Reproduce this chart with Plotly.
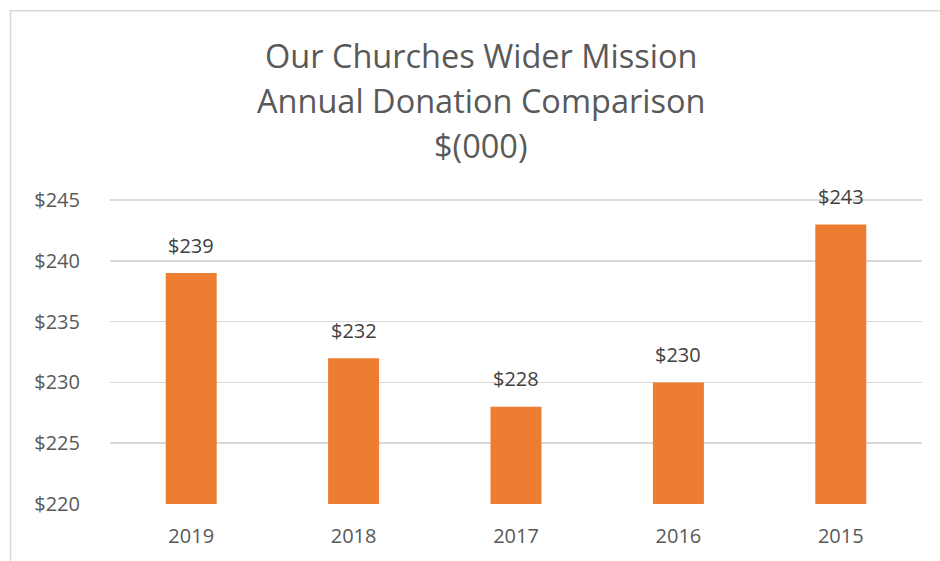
import plotly.graph_objects as go

categories = ["2019", "2018", "2017", "2016", "2015"]
values = [239, 232, 228, 230, 243]
y_ticks = [220, 225, 230, 235, 240, 245]
y_tick_labels = ["$220", "$225", "$230", "$235", "$240", "$245"]
title_lines = ["Our Churches Wider Mission", "Annual Donation Comparison", "$(000)"]

W, H = 940, 561
L, R, T, B = 110, 17.5, 198.8, 57.3
pw = W - L - R
ph = H - T - B

fig = go.Figure()
fig.add_trace(go.Bar(
    x=categories, y=values, width=0.314,
    marker=dict(color="#ED7D31", line=dict(width=0)),
    hoverinfo="skip",
))

for i, v in enumerate(values):
    fig.add_annotation(x=i, y=v, xref="x", yref="y", text=f"${v}", showarrow=False,
                       yshift=28, yanchor="middle",
                       font=dict(family="Open Sans", size=20, color="#404040"))

# title
for i, line in enumerate(title_lines):
    ypx = 55 + i * 45
    fig.add_annotation(xref="paper", yref="paper",
                       x=(481.5 - L) / pw, y=(H - B - ypx) / ph,
                       text=line, showarrow=False, xanchor="center", yanchor="middle",
                       font=dict(family="Open Sans", size=32.5, color="#595959"))

# chart frame
fig.add_shape(type="rect", xref="paper", yref="paper",
              x0=(10.5 - L) / pw, x1=(W + 50 - L) / pw,
              y0=(H - B - (H + 50)) / ph, y1=(H - B - 10.5) / ph,
              line=dict(color="#D9D9D9", width=1.5), fillcolor="rgba(0,0,0,0)", layer="below")

fig.update_layout(
    width=W, height=H,
    margin=dict(l=L, r=R, t=T, b=B, autoexpand=False),
    paper_bgcolor="white", plot_bgcolor="white",
    showlegend=False,
    xaxis=dict(type="category", range=[-0.5, 4.5], showgrid=False, showline=False,
               zeroline=False, ticks="", ticklabelstandoff=18,
               tickfont=dict(family="Open Sans", size=20, color="#595959")),
    yaxis=dict(range=[220, 245.1], tickvals=y_ticks, ticktext=y_tick_labels,
               showgrid=True, gridcolor="#D9D9D9", gridwidth=1.5,
               zeroline=False, showline=False, ticks="", ticklabelstandoff=29,
               tickfont=dict(family="Open Sans", size=20, color="#595959")),
)

fig.write_html("out.html", config={"displayModeBar": False, "staticPlot": True},
               post_script="document.body.style.margin='0';document.body.style.overflow='hidden';")
